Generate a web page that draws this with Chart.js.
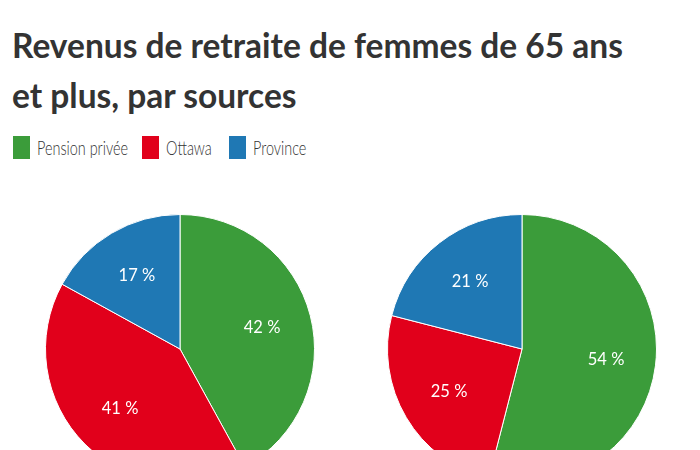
<!DOCTYPE html>
<html>
<head>
<meta charset="utf-8">
<script src="https://cdn.jsdelivr.net/npm/chart.js@4.4.0/dist/chart.umd.min.js"></script>
<style>
  html, body { margin: 0; padding: 0; background: #fff; }
  body { width: 700px; height: 450px; overflow: hidden; position: relative; font-family: Lato, "Open Sans", sans-serif; color: #333; }
  .title { position: absolute; left: 12px; top: 20px; font-size: 33.5px; font-weight: 700; line-height: 50px; margin: 0; color: #333; }
  .legend { position: absolute; left: 13px; top: 136px; font-size: 19px; font-weight: 300; }
  .legend span.item { position: absolute; white-space: nowrap; top: 0; }
  .legend i { display: inline-block; width: 17px; height: 23px; vertical-align: top; margin-right: 7px; }
  .legend b { display: inline-block; font-weight: 300; line-height: 23px; vertical-align: top; transform: scaleX(0.76); transform-origin: left center; color: #333; }
  .pie { position: absolute; top: 214px; width: 270px; height: 270px; }
</style>
</head>
<body>

<h1 class="title">Revenus de retraite de femmes de 65 ans<br>et plus, par sources</h1>
<div class="legend" id="legend"></div>

<div class="pie" style="left:45px"><canvas id="pie1" width="270" height="270"></canvas></div>
<div class="pie" style="left:387px"><canvas id="pie2" width="270" height="270"></canvas></div>

<script>
const categories = ['Pension privée', 'Ottawa', 'Province'];
const colors = ['#3b9c3a', '#e1001b', '#1f78b4'];
const leftValues = [42, 41, 17];
const rightValues = [54, 25, 21];

// legend (shared by both pies)
const legendX = [0, 129, 216];
const legend = document.getElementById('legend');
categories.forEach((c, i) => {
  const s = document.createElement('span');
  s.className = 'item';
  s.style.left = legendX[i] + 'px';
  s.innerHTML = '<i style="background:' + colors[i] + '"></i><b>' + c + '</b>';
  legend.appendChild(s);
});

// white "NN %" labels inside slices
const sliceLabels = {
  id: 'sliceLabels',
  afterDatasetsDraw(chart) {
    const ctx = chart.ctx;
    const meta = chart.getDatasetMeta(0);
    const values = chart.data.datasets[0].data;
    ctx.save();
    ctx.fillStyle = '#fff';
    ctx.font = '16.5px Lato, "Open Sans", sans-serif';
    ctx.textAlign = 'center';
    ctx.textBaseline = 'middle';
    meta.data.forEach((arc, i) => {
      const p = arc.getProps(['x', 'y', 'startAngle', 'endAngle', 'outerRadius'], true);
      const mid = (p.startAngle + p.endAngle) / 2;
      const d = p.outerRadius * 0.63;
      ctx.fillText(values[i] + ' %', p.x + Math.cos(mid) * d, p.y + Math.sin(mid) * d);
    });
    ctx.restore();
  }
};

function makePie(id, values) {
  const ctx = document.getElementById(id).getContext('2d');
  return new Chart(ctx, {
    type: 'pie',
    data: {
      labels: categories,
      datasets: [{
        data: values,
        backgroundColor: colors,
        borderColor: '#fff',
        borderWidth: 1
      }]
    },
    options: {
      responsive: false,
      animation: false,
      layout: { padding: 0 },
      plugins: {
        legend: { display: false },
        tooltip: { enabled: false }
      }
    },
    plugins: [sliceLabels]
  });
}

makePie('pie1', leftValues);
makePie('pie2', rightValues);
</script>
</body>
</html>
